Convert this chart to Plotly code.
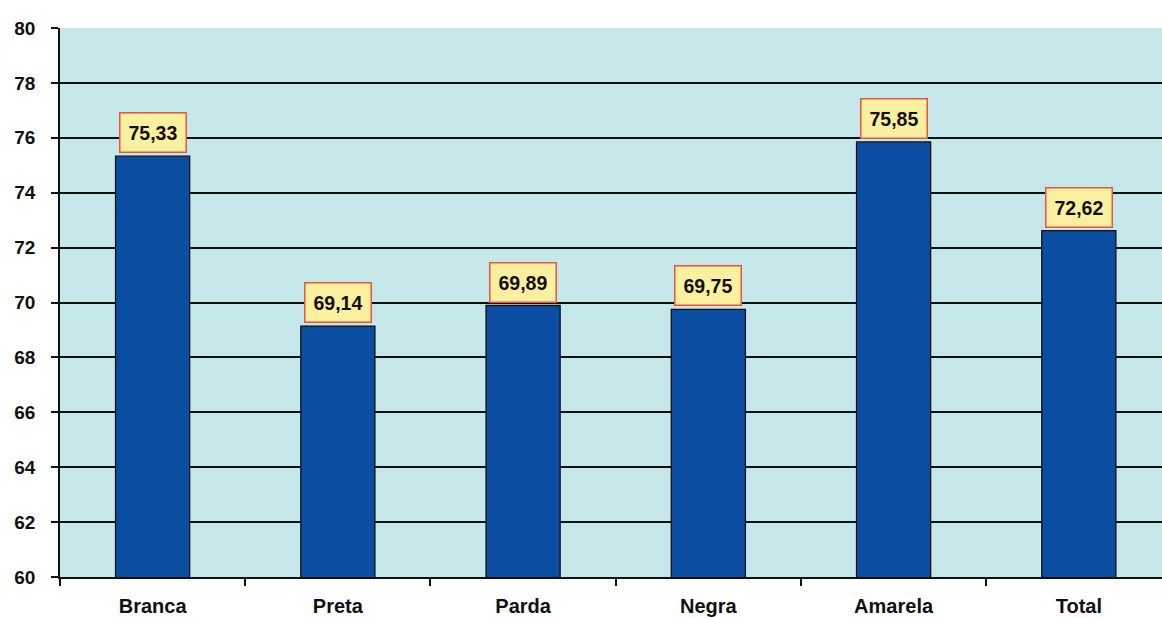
import plotly.graph_objects as go

categories = ["Branca", "Preta", "Parda", "Negra", "Amarela", "Total"]
values = [75.33, 69.14, 69.89, 69.75, 75.85, 72.62]
value_labels = ["75,33", "69,14", "69,89", "69,75", "75,85", "72,62"]
y_ticks = [60, 62, 64, 66, 68, 70, 72, 74, 76, 78, 80]

FONT = "Liberation Sans, Arial, sans-serif"

fig = go.Figure()
fig.add_trace(go.Bar(
    x=categories, y=values, width=0.4,
    marker=dict(color="#0B4DA0", line=dict(color="#111111", width=1.3)),
    hoverinfo="skip",
))

for c, v, t in zip(categories, values, value_labels):
    fig.add_annotation(
        x=c, y=v, text="<b>%s</b>" % t, showarrow=False,
        yanchor="bottom", yshift=3,
        font=dict(family=FONT, size=19.5, color="#111111"),
        bgcolor="#FBEFA0", bordercolor="#E8553A", borderwidth=1.5, borderpad=8,
    )

fig.update_layout(
    width=1162, height=618,
    margin=dict(l=60, r=0, t=28, b=41),
    paper_bgcolor="white", plot_bgcolor="#C6E7EA",
    showlegend=False, bargap=0.6,
    font=dict(family=FONT, size=19, color="#111111"),
)
fig.update_xaxes(
    type="category", range=[-0.5, 5.449],
    tickson="boundaries", ticks="outside", ticklen=7, tickwidth=1.5, tickcolor="#111111",
    ticklabelstandoff=10,
    showline=True, linecolor="#111111", linewidth=1.6,
    showgrid=False,
    tickvals=categories, ticktext=["<b>%s</b>" % c for c in categories],
    tickfont=dict(size=20, family=FONT, color="#111111"),
)
fig.update_yaxes(
    range=[60, 80], tickvals=y_ticks, ticktext=["<b>%d</b>" % t for t in y_ticks],
    ticks="outside", ticklen=7, tickwidth=1.5, tickcolor="#111111",
    ticklabelstandoff=12,
    showline=True, linecolor="#111111", linewidth=1.6,
    showgrid=True, gridcolor="#111111", gridwidth=1.5,
    zeroline=False,
    tickfont=dict(size=19, family=FONT, color="#111111"),
)

fig.write_html(
    "out.html",
    config={"displayModeBar": False},
    post_script="document.body.style.margin='0';document.body.style.overflow='hidden';",
)
